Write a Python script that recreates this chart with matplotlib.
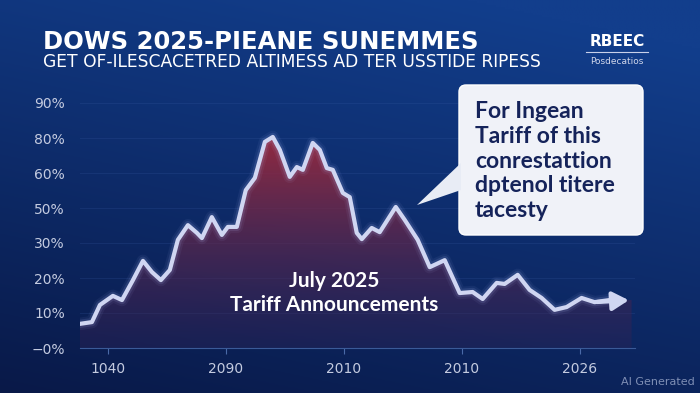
import numpy as np
import matplotlib.pyplot as plt
from matplotlib.patches import Polygon, FancyBboxPatch

# Values (x in tick-slot units, y in axis units)
x_vals = [-0.237, -0.136, -0.068, 0.042, 0.119, 0.212, 0.297, 0.373, 0.449, 0.525,
          0.593, 0.678, 0.754, 0.797, 0.881, 0.966, 1.017, 1.093, 1.169, 1.246,
          1.331, 1.398, 1.458, 1.542, 1.602, 1.653, 1.737, 1.797, 1.856, 1.907,
          1.992, 2.051, 2.110, 2.153, 2.237, 2.305, 2.441, 2.517, 2.627, 2.729,
          2.856, 2.983, 3.093, 3.178, 3.297, 3.364, 3.475, 3.576, 3.678, 3.788,
          3.890, 4.017, 4.127, 4.254, 4.441]
y_vals = [6.9, 7.4, 12.3, 14.9, 13.7, 19.4, 24.9, 21.7, 19.4, 22.3,
          30.9, 35.1, 32.9, 31.4, 37.4, 32.3, 34.6, 34.6, 45.1, 48.6,
          58.9, 60.3, 56.6, 48.9, 51.7, 50.9, 58.6, 56.6, 51.4, 50.9,
          44.3, 43.1, 32.9, 31.1, 34.3, 33.1, 40.3, 36.6, 30.9, 23.1,
          25.1, 15.7, 16.0, 14.0, 18.6, 18.3, 20.9, 16.6, 14.3, 10.9,
          11.7, 14.3, 13.1, 13.7, 13.7]

x_ticks = [0, 1, 2, 3, 4]
x_labels = ["1040", "2090", "2010", "2010", "2026"]
y_ticks = [0, 10, 20, 30, 40, 50, 60, 70]
y_labels = ["\u22120%", "10%", "20%", "30%", "50%", "60%", "80%", "90%"]

title = "DOWS 2025-PIEANE SUNEMMES"
subtitle = "GET OF-ILESCACETRED ALTIMESS AD TER USSTIDE RIPESS"
callout = "For Ingean\nTariff of this\nconrestattion\ndptenol titere\ntacesty"
event_label = "July 2025\nTariff Announcements"

W, H = 700, 393
fig = plt.figure(figsize=(W / 100, H / 100), dpi=100)

# background gradient: lighter at the top and to the right
bg = fig.add_axes([0, 0, 1, 1])
gx, gy = np.meshgrid(np.linspace(0, 1, 300), np.linspace(0, 1, 200))
t = np.clip(0.8 * gy + 0.3 * gx, 0, 1)
c0 = np.array([9, 25, 72]) / 255
c1 = np.array([18, 62, 140]) / 255
img = c0[None, None, :] * (1 - t[..., None]) + c1[None, None, :] * t[..., None]
bg.imshow(img, extent=[0, W, 0, H], origin="lower", aspect="auto")
bg.axis("off")

# chart
ax = fig.add_axes([80 / W, 45 / H, 555 / W, 262.5 / H])
ax.patch.set_alpha(0)
ax.set_xlim(-0.237, 4.47)
ax.set_ylim(0, 75)

x = np.array(x_vals)
y = np.array(y_vals)

poly = Polygon(np.vstack([np.column_stack([x, y]), [[x[-1], 0], [x[0], 0]]]),
               closed=True, facecolor="none", edgecolor="none")
ax.add_patch(poly)
gv = np.linspace(0, 1, 256)[:, None]
top = np.array([165, 42, 58, 235]) / 255
bot = np.array([50, 35, 85, 90]) / 255
fill = bot[None, None, :] * (1 - gv[..., None]) + top[None, None, :] * gv[..., None]
fill = np.repeat(fill, 2, axis=1)
im = ax.imshow(fill, extent=[x[0], x[-1], 0, 62], origin="lower", aspect="auto", zorder=2)
im.set_clip_path(poly)

for lw, a in [(9, 0.06), (6, 0.12)]:
    ax.plot(x[:-1], y[:-1], color="#b8c4ff", lw=lw, alpha=a, zorder=3,
            solid_capstyle="round", solid_joinstyle="round")
ax.plot(x[:-1], y[:-1], color="#d0d6f2", lw=3, zorder=4, solid_joinstyle="round")
ax.annotate("", xy=(x[-1], y[-1]), xytext=(x[-3], y[-3]),
            arrowprops=dict(arrowstyle="-|>,head_length=0.7,head_width=0.4",
                            color="#d0d6f2", lw=3, mutation_scale=14), zorder=5)

ax.set_xticks(x_ticks)
ax.set_xticklabels(x_labels)
ax.set_yticks(y_ticks)
ax.set_yticklabels(y_labels)
ax.tick_params(axis="x", colors="#4a6aa8", labelcolor="#c4cbe0", labelsize=10, length=4, pad=6)
ax.tick_params(axis="y", length=0, labelcolor="#c4cbe0", labelsize=10, pad=11)
for s in ["top", "right", "left"]:
    ax.spines[s].set_visible(False)
ax.spines["bottom"].set_color("#3a5a98")
ax.grid(axis="y", color="#3c5fa8", alpha=0.2, lw=0.8)
ax.set_axisbelow(True)

ax.text(1.92, 15.7, event_label, ha="center", va="center", color="white",
        fontsize=15, fontweight="bold", family="Lato", linespacing=1.2, zorder=6)

# overlay in pixel coords
ov = fig.add_axes([0, 0, 1, 1])
ov.set_xlim(0, W)
ov.set_ylim(H, 0)
ov.axis("off")

ov.text(43, 42, title, color="white", fontsize=17.5, fontweight="bold",
        family="DejaVu Sans", va="center", ha="left")
ov.text(43, 62, subtitle, color="white", fontsize=12.3, family="DejaVu Sans",
        va="center", ha="left")
ov.text(617, 42, "RBEEC", color="white", fontsize=11, fontweight="bold",
        family="DejaVu Sans", va="center", ha="center")
ov.plot([586, 648], [52, 52], color="#c8d0ea", lw=0.8)
ov.text(617, 61, "Posdecatios", color="#d0d6ea", fontsize=6.5, va="center", ha="center")

# callout box
ov.add_patch(FancyBboxPatch((462, 88), 178, 145, boxstyle="round,pad=0,rounding_size=7",
                            facecolor="#1a2a60", edgecolor="none", alpha=0.35, zorder=5))
ov.add_patch(FancyBboxPatch((459, 85), 184, 150, boxstyle="round,pad=0,rounding_size=7",
                            facecolor="#f0f2f8", edgecolor="#ffffff", lw=1, zorder=6))
ov.add_patch(Polygon([[461, 163], [461, 190], [417, 205]], closed=True,
                     facecolor="#e8ecf5", edgecolor="none", zorder=6))
ov.text(475, 161, callout, color="#15235a", fontsize=16.5, fontweight="bold",
        family="Lato", va="center", ha="left", linespacing=1.22, zorder=7)

ov.text(695, 382, "AI Generated", color="#7f8fb5", fontsize=8, ha="right", va="center")

fig.savefig("out.png", dpi=100)
